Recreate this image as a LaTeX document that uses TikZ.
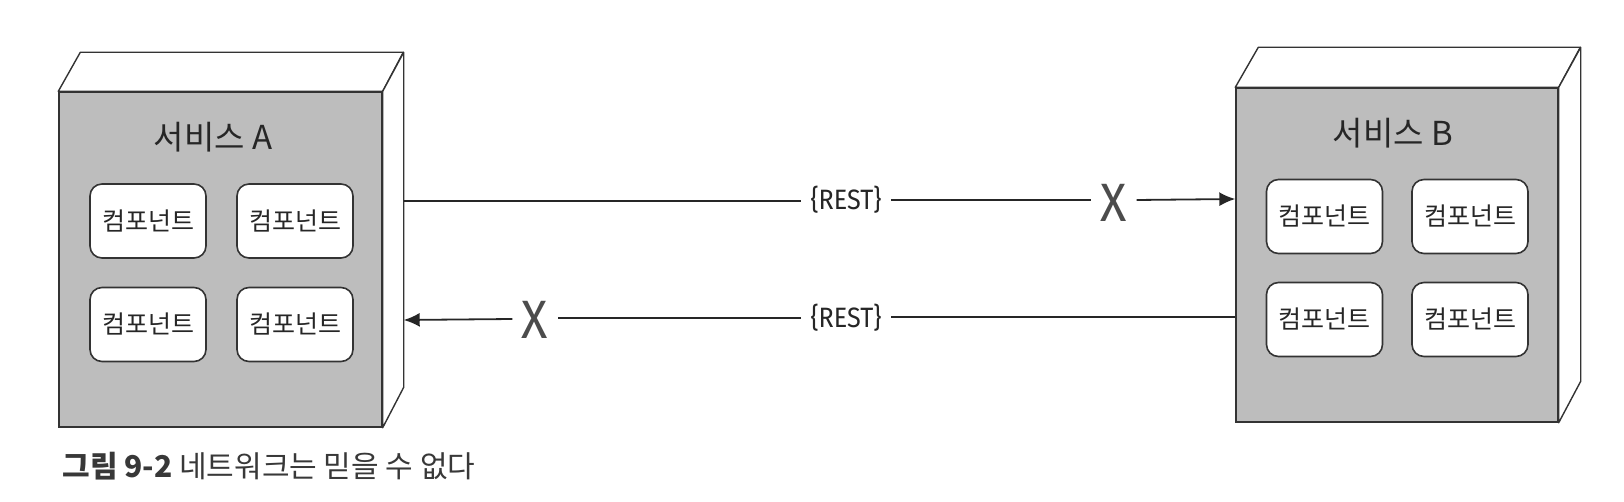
\documentclass[tikz,border=0pt]{standalone}
\usepackage{fontspec}
\setmainfont{Noto Sans CJK KR}
\newfontfamily\restfont{Fira Sans}[FakeStretch=0.9]
\usetikzlibrary{arrows.meta}

\begin{document}
\begin{tikzpicture}[x=0.5pt,y=-0.5pt,
    front/.style={draw=black!80, fill=black!26, line width=0.7pt, inner sep=0pt},
    face/.style={draw=black!80, fill=white, line width=0.7pt, line join=round},
    comp/.style={draw=black!80, fill=white, rounded corners=6pt, line width=0.8pt,
      minimum width=58pt, minimum height=37pt, inner sep=0pt, text=black!85,
      font=\fontsize{12.5}{14}\selectfont},
    svc/.style={text=black!85, font=\fontsize{16.5}{18}\selectfont},
    rest/.style={fill=white, inner xsep=4.5pt, inner ysep=2pt, text=black!85,
      font=\restfont\fontsize{14}{16}\selectfont},
    fail/.style={fill=white, inner xsep=4.5pt, inner ysep=0pt, text=black!70,
      font=\restfont\fontsize{27}{29}\selectfont},
    link/.style={draw=black!85, line width=0.9pt},
    tip/.style={-{Latex[length=8pt,width=7pt]}}]
  \useasboundingbox (0,0) rectangle (1624,502);
  % service A
  \node [front, minimum width=161.5pt, minimum height=167.5pt] (fA) at (220.5,259.5) {};
  \draw [face] (fA.north west) -- ++(22,-39) -- ++(323,0) -- (fA.north east) -- cycle;
  \draw [face] (fA.north east) -- ++(21,-39) -- ++(0,335) -- (fA.south east) -- cycle;
  \coordinate (sA1) at ([xshift=10.5pt]fA.east |- 0,201);
  \coordinate (sA2) at ([xshift=10.5pt]fA.east |- 0,320);
  \node [svc] (tA) at (213,137) {서비스 A};
  \node [comp] (cA1) at (148,221) {컴포넌트};
  \node [comp] (cA2) at (295,221) {컴포넌트};
  \node [comp] (cA3) at (148,324.5) {컴포넌트};
  \node [comp] (cA4) at (295,324.5) {컴포넌트};
  % service B
  \node [front, minimum width=161pt, minimum height=167pt] (fB) at (1397,255) {};
  \draw [face] (fB.north west) -- ++(23,-40) -- ++(322,0) -- (fB.north east) -- cycle;
  \draw [face] (fB.north east) -- ++(22,-40) -- ++(0,334) -- (fB.south east) -- cycle;
  \coordinate (eB1) at (fB.west |- 0,199);
  \coordinate (eB2) at (fB.west |- 0,317);
  \node [svc] (tB) at (1393,133) {서비스 B};
  \node [comp] (cB1) at (1324.5,216.5) {컴포넌트};
  \node [comp] (cB2) at (1470,216.5) {컴포넌트};
  \node [comp] (cB3) at (1324.5,319.5) {컴포넌트};
  \node [comp] (cB4) at (1470,319.5) {컴포넌트};
  % calls
  \node [rest] (r1) at (846,200) {\{REST\}};
  \node [fail] (x1) at (1114,203) {X};
  \draw [link] (sA1) -- (r1.west |- sA1);
  \draw [link] (r1.east |- 0,200) -- (x1.west |- 0,200);
  \draw [link, tip] (x1.east |- 0,200) -- (eB1);
  \node [rest] (r2) at (846,318) {\{REST\}};
  \node [fail] (x2) at (535,320) {X};
  \draw [link] (eB2) -- (r2.east |- eB2);
  \draw [link] (r2.west |- 0,318) -- (x2.east |- 0,318);
  \draw [link, tip] (x2.west |- 0,319) -- (sA2);
  % caption
  \node [anchor=base west, inner sep=0pt, text=black!78,
    font=\fontsize{15}{17}\selectfont] (cap) at (62,478)
    {\textbf{그림 9-2} 네트워크는 믿을 수 없다};
\end{tikzpicture}
\end{document}
